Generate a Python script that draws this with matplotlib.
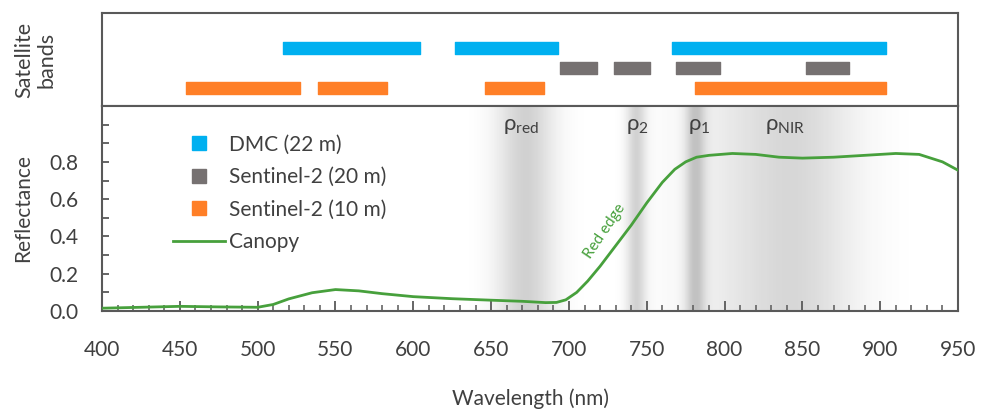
import numpy as np
import matplotlib
matplotlib.use("Agg")
import matplotlib.pyplot as plt
from matplotlib.lines import Line2D
from matplotlib.ticker import FixedLocator, MultipleLocator

plt.rcParams['font.family'] = ['Lato', 'DejaVu Sans']
plt.rcParams['mathtext.fontset'] = 'custom'
plt.rcParams['mathtext.rm'] = 'Lato'
plt.rcParams['mathtext.it'] = 'Lato:italic'

# ---- data ----
dmc_bands = [(516, 604), (627, 693), (766, 904)]
s2_20m_bands = [(694, 718), (729, 752), (769, 797), (852, 880)]
s2_10m_bands = [(454, 527), (539, 583), (646, 684), (781, 904)]

wavelength = [400, 425, 450, 475, 500, 510, 520, 535, 550, 565, 580, 600, 625, 650,
              670, 685, 692, 698, 705, 712, 720, 730, 740, 750, 760, 768, 775, 782,
              790, 805, 820, 835, 850, 870, 890, 910, 925, 940, 950]
reflectance = [0.015, 0.02, 0.025, 0.022, 0.02, 0.035, 0.065, 0.098, 0.115, 0.108, 0.093,
               0.077, 0.066, 0.058, 0.052, 0.045, 0.046, 0.06, 0.1, 0.16, 0.24, 0.35,
               0.46, 0.58, 0.69, 0.76, 0.80, 0.825, 0.835, 0.845, 0.84, 0.825, 0.82,
               0.825, 0.835, 0.845, 0.84, 0.80, 0.755]

rho_labels = [r'$\mathrm{\rho_{red}}$', r'$\mathrm{\rho_{2}}$', r'$\mathrm{\rho_{1}}$',
              r'$\mathrm{\rho_{NIR}}$']
rho_pos = [669, 744, 784, 839]

# shading bands: (center, width, strength)
shade_centers = [672, 743, 781, 848, 808]
shade_widths = [13, 4.5, 4.5, 26, 30]
shade_strength = [0.21, 0.2, 0.24, 0.15, 0.07]

BLUE = '#00B0F0'
GRAY = '#767171'
ORANGE = '#FF7F27'
GREEN = '#47A03C'
SPINE = '#595959'
TXT = '#404040'

fig = plt.figure(figsize=(9.81, 4.09), dpi=100)
ax_top = fig.add_axes([0.104, 0.741, 0.8726, 0.227])
ax = fig.add_axes([0.104, 0.2396, 0.8726, 0.5014])

# ---- top panel ----
bar_h = 0.62
for (a, b) in dmc_bands:
    ax_top.broken_barh([(a, b - a)], (3 - bar_h / 2, bar_h), color=BLUE)
for (a, b) in s2_20m_bands:
    ax_top.broken_barh([(a, b - a)], (2 - bar_h / 2, bar_h), color=GRAY)
for (a, b) in s2_10m_bands:
    ax_top.broken_barh([(a, b - a)], (1 - bar_h / 2, bar_h), color=ORANGE)
ax_top.set_xlim(400, 950)
ax_top.set_ylim(0.1, 4.75)
ax_top.set_xticks([])
ax_top.set_yticks([])
for s in ax_top.spines.values():
    s.set_color(SPINE)
    s.set_linewidth(1.5)
ax_top.set_ylabel('Satellite\nbands', fontsize=15.5, color=TXT, linespacing=1.15)
ax_top.yaxis.set_label_coords(-0.053, 0.5)

# ---- bottom panel ----
xs = np.linspace(400, 950, 1101)
alpha = np.zeros_like(xs)
for c, w, s in zip(shade_centers, shade_widths, shade_strength):
    alpha = alpha + s * np.exp(-0.5 * ((xs - c) / w) ** 2)
alpha = np.clip(alpha, 0, 0.28)
img = np.zeros((1, len(xs), 4))
img[..., :3] = 0.15
img[0, :, 3] = alpha
ax.imshow(img, extent=[400, 950, 0, 1.1], aspect='auto', zorder=0,
          interpolation='bilinear')

ax.plot(wavelength, reflectance, color=GREEN, lw=2, zorder=3)

for lab, x in zip(rho_labels, rho_pos):
    ax.text(x, 0.995, lab, ha='center', va='center', fontsize=16, color=TXT)

ax.text(723, 0.43, 'Red edge', rotation=56, color=GREEN, fontsize=11,
        ha='center', va='center', rotation_mode='anchor')

ax.set_xlim(400, 950)
ax.set_ylim(0, 1.1)
ax.xaxis.set_major_locator(MultipleLocator(50))
ax.xaxis.set_minor_locator(MultipleLocator(10))
ax.yaxis.set_major_locator(FixedLocator([0, 0.2, 0.4, 0.6, 0.8]))
ax.yaxis.set_minor_locator(FixedLocator([0.1, 0.3, 0.5, 0.7, 0.9, 1.0]))
ax.yaxis.set_major_formatter(matplotlib.ticker.FormatStrFormatter('%.1f'))
ax.tick_params(axis='x', which='major', direction='in', length=7, width=1.3,
               color=SPINE, labelsize=15, labelcolor=TXT, pad=21)
ax.tick_params(axis='x', which='minor', direction='in', length=4, width=1.1, color=SPINE)
ax.tick_params(axis='y', which='both', direction='in', length=5, width=1.3,
               color=SPINE, labelsize=15, labelcolor=TXT, pad=17)
for s in ax.spines.values():
    s.set_color(SPINE)
    s.set_linewidth(1.5)
ax.set_xlabel('Wavelength (nm)', fontsize=15, color=TXT, labelpad=20)
ax.set_ylabel('Reflectance', fontsize=15, color=TXT)
ax.yaxis.set_label_coords(-0.081, 0.5)

handles = [
    Line2D([], [], marker='s', color=BLUE, linestyle='none', markersize=10),
    Line2D([], [], marker='s', color=GRAY, linestyle='none', markersize=10),
    Line2D([], [], marker='s', color=ORANGE, linestyle='none', markersize=10),
    Line2D([], [], color=GREEN, lw=2),
]
labels = ['DMC (22 m)', 'Sentinel-2 (20 m)', 'Sentinel-2 (10 m)', 'Canopy']
ax.legend(handles, labels, loc='upper left', bbox_to_anchor=(0.083, 0.86),
          frameon=False, fontsize=15, handlelength=2.5, handletextpad=0.2,
          labelspacing=0.6, borderpad=0, borderaxespad=0, labelcolor=TXT)

fig.savefig('out.png', dpi=100)
